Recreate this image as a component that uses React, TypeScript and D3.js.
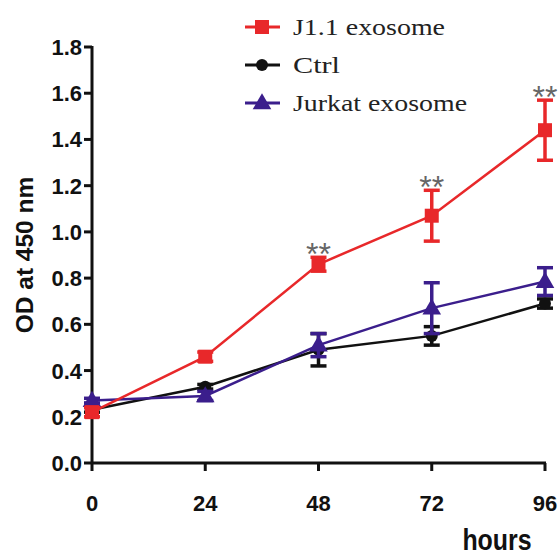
import * as d3 from 'd3';

const hours = [0, 24, 48, 72, 96];
const j11Mean = [0.22, 0.46, 0.86, 1.07, 1.44];
const j11Err = [0.02, 0.02, 0.03, 0.11, 0.13];
const ctrlMean = [0.23, 0.33, 0.49, 0.55, 0.69];
const ctrlErr = [0.01, 0.01, 0.07, 0.04, 0.02];
const jurkatMean = [0.27, 0.29, 0.51, 0.67, 0.785];
const jurkatErr = [0.01, 0.02, 0.05, 0.11, 0.06];
const yTicks = [0, 0.2, 0.4, 0.6, 0.8, 1.0, 1.2, 1.4, 1.6, 1.8];
const starsAt = [48, 72, 96];

type Series = { name: string; color: string; shape: 'square' | 'circle' | 'triangle'; mean: number[]; err: number[] };

const series: Series[] = [
  { name: 'Ctrl', color: '#111111', shape: 'circle', mean: ctrlMean, err: ctrlErr },
  { name: 'Jurkat exosome', color: '#3b1e8c', shape: 'triangle', mean: jurkatMean, err: jurkatErr },
  { name: 'J1.1 exosome', color: '#e8282a', shape: 'square', mean: j11Mean, err: j11Err },
];
const legendOrder = ['J1.1 exosome', 'Ctrl', 'Jurkat exosome'];
const legendWidths: Record<string, number> = { 'J1.1 exosome': 152, Ctrl: 47, 'Jurkat exosome': 174 };

const W = 560;
const H = 557;
const x = d3.scaleLinear().domain([0, 96]).range([92, 545]);
const y = d3.scaleLinear().domain([0, 1.8]).range([463, 47]);

function Marker({ shape, cx, cy, color }: { shape: Series['shape']; cx: number; cy: number; color: string }) {
  if (shape === 'square') return <rect x={cx - 7} y={cy - 7} width={14} height={14} fill={color} />;
  if (shape === 'circle') return <circle cx={cx} cy={cy} r={6} fill={color} />;
  const s = d3.symbol(d3.symbolTriangle, 150)();
  return <path d={s ?? ''} transform={`translate(${cx},${cy + 1})`} fill={color} />;
}

export default function App() {
  const line = d3
    .line<number>()
    .x((_, i) => x(hours[i]))
    .y((d) => y(d));
  const font = '"Liberation Sans", Arial, sans-serif';
  return (
    <svg width={W} height={H} style={{ position: 'absolute', left: 0, top: 0, background: '#fff' }}>
      {/* axes */}
      <g stroke="#111" strokeWidth={3}>
        <line x1={x(0)} x2={x(0)} y1={y(1.8) - 1} y2={y(0) + 1} />
        <line x1={x(0) - 1} x2={x(96) + 1} y1={y(0)} y2={y(0)} />
        {yTicks.map((t) => (
          <line key={t} x1={x(0) - 8} x2={x(0)} y1={y(t)} y2={y(t)} />
        ))}
        {hours.map((h) => (
          <line key={h} x1={x(h)} x2={x(h)} y1={y(0)} y2={y(0) + 8} />
        ))}
      </g>
      <g fontFamily={font} fontWeight="bold" fontSize={22} fill="#111">
        {yTicks.map((t) => (
          <text key={t} x={x(0) - 10} y={y(t) + 8} textAnchor="end">
            {t.toFixed(1)}
          </text>
        ))}
        {hours.map((h) => (
          <text key={h} x={x(h)} y={y(0) + 48} textAnchor="middle">
            {h}
          </text>
        ))}
        <text transform="translate(497,550) scale(0.86,1)" textAnchor="middle" fontSize={29}>hours</text>
        <text transform={`translate(33,${y(0.9)}) rotate(-90)`} textAnchor="middle" fontSize={24.5}>
          OD at 450 nm
        </text>
      </g>
      {/* series */}
      {series.map((s) => (
        <g key={s.name}>
          <path d={line(s.mean) ?? ''} fill="none" stroke={s.color} strokeWidth={2.5} />
          {s.mean.map((m, i) => {
            const cx = x(hours[i]);
            const top = y(m + s.err[i]);
            const bot = y(m - s.err[i]);
            return (
              <g key={i} stroke={s.color} strokeWidth={3.5}>
                <line x1={cx} x2={cx} y1={top} y2={bot} />
                <line x1={cx - 8} x2={cx + 8} y1={top} y2={top} />
                <line x1={cx - 8} x2={cx + 8} y1={bot} y2={bot} />
              </g>
            );
          })}
          {s.mean.map((m, i) => (
            <Marker key={`m${i}`} shape={s.shape} cx={x(hours[i])} cy={y(m)} color={s.color} />
          ))}
        </g>
      ))}
      {/* significance */}
      {starsAt.map((h) => {
        const i = hours.indexOf(h);
        return (
          <text key={h} x={x(h)} y={y(j11Mean[i] + j11Err[i]) + 8} textAnchor="middle" fontFamily={font} fontSize={32} fill="#666">
            **
          </text>
        );
      })}
      {/* legend */}
      <g fontFamily='"Liberation Serif", "Times New Roman", serif' fontSize={24} fill="#222">
        {legendOrder.map((name, i) => {
          const s = series.find((d) => d.name === name)!;
          const ly = 27 + i * 38;
          return (
            <g key={name}>
              <line x1={245} x2={280} y1={ly} y2={ly} stroke={s.color} strokeWidth={3} />
              <Marker shape={s.shape} cx={262} cy={ly} color={s.color} />
              <text x={293} y={ly + 8} textLength={legendWidths[name]} lengthAdjust="spacingAndGlyphs">
                {name}
              </text>
            </g>
          );
        })}
      </g>
    </svg>
  );
}
